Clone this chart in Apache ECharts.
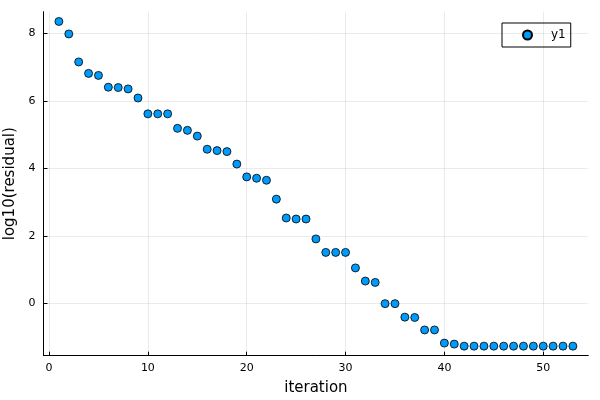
<!DOCTYPE html>
<html>
<head>
<meta charset="utf-8">
<script src="https://cdn.jsdelivr.net/npm/echarts@6/dist/echarts.min.js"></script>
<style>html,body{margin:0;padding:0;background:#fff}#c{width:600px;height:400px}</style>
</head>
<body>
<div id="c"></div>
<script>
const iterations = [1,2,3,4,5,6,7,8,9,10,11,12,13,14,15,16,17,18,19,20,21,22,23,24,25,26,27,28,29,30,31,32,33,34,35,36,37,38,39,40,41,42,43,44,45,46,47,48,49,50,51,52,53];
const logResidual = [8.36,7.99,7.16,6.82,6.76,6.41,6.40,6.36,6.09,5.62,5.62,5.62,5.19,5.13,4.96,4.57,4.53,4.50,4.13,3.75,3.71,3.65,3.09,2.53,2.50,2.50,1.91,1.51,1.51,1.51,1.05,0.66,0.62,-0.01,-0.01,-0.41,-0.42,-0.79,-0.79,-1.18,-1.21,-1.27,-1.27,-1.27,-1.27,-1.27,-1.27,-1.27,-1.27,-1.27,-1.27,-1.27,-1.27];
const xTicks = [0,10,20,30,40,50];
const yTicks = [0,2,4,6,8];
const seriesName = 'y1';

const font = 'DejaVu Sans';
const chart = echarts.init(document.getElementById('c'), null, {renderer:'canvas'});
chart.setOption({
  animation: false,
  backgroundColor: '#fff',
  grid: {left: 43.5, right: 11.7, top: 11.7, bottom: 44.3, containLabel: false, outerBoundsMode: 'none'},
  legend: {
    show: true, left: 502, top: 23, orient: 'vertical',
    borderColor: '#000', borderWidth: 1, borderRadius: 0,
    padding: [6, 5, 6, 20], itemWidth: 9, itemHeight: 9, itemGap: 4,
    textStyle: {fontFamily: font, fontSize: 12, color: '#000', padding: [0,0,0,14]},
    data: [{name: seriesName, icon: 'circle'}]
  },
  xAxis: {
    type: 'value', min: -0.56, max: 54.56,
    name: 'iteration', nameLocation: 'middle', nameGap: 25,
    nameTextStyle: {fontFamily: font, fontSize: 15, color: '#000'},
    axisLine: {show: true, onZero: false, lineStyle: {color: '#000', width: 1}},
    axisTick: {show: true, inside: true, length: 4, lineStyle: {color: '#000'}, customValues: xTicks},
    axisLabel: {fontFamily: font, fontSize: 11, color: '#000', margin: 7, customValues: xTicks},
    splitLine: {show: true, lineStyle: {color: 'rgba(0,0,0,0.1)', width: 0.8}}
  },
  yAxis: {
    type: 'value', min: -1.554, max: 8.65,
    name: 'log10(residual)', nameLocation: 'middle', nameGap: 24, nameRotate: 90,
    nameTextStyle: {fontFamily: font, fontSize: 15, color: '#000'},
    axisLine: {show: true, onZero: false, lineStyle: {color: '#000', width: 1}},
    axisTick: {show: true, inside: true, length: 4, lineStyle: {color: '#000'}, customValues: yTicks},
    axisLabel: {fontFamily: font, fontSize: 11, color: '#000', margin: 8, customValues: yTicks},
    splitLine: {show: true, lineStyle: {color: 'rgba(0,0,0,0.1)', width: 0.8}}
  },
  series: [{
    name: seriesName, type: 'scatter', symbol: 'circle', symbolSize: 8,
    itemStyle: {color: '#009AFA', borderColor: '#000', borderWidth: 0.8, opacity: 1},
    data: iterations.map((x, i) => [x, logResidual[i]])
  }]
});
</script>
</body>
</html>
